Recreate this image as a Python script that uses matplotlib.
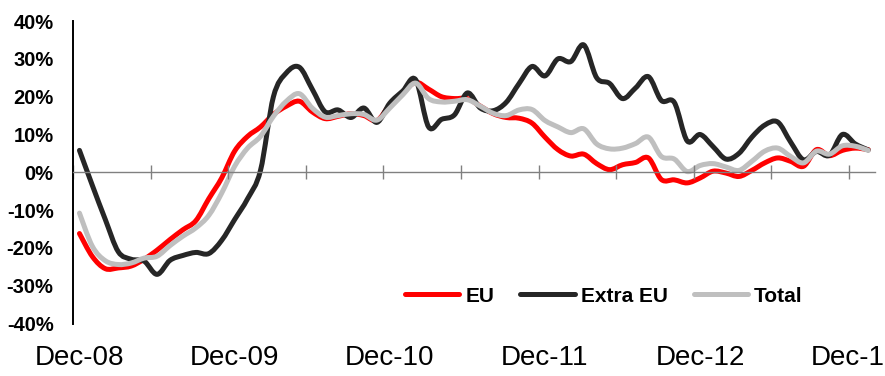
import numpy as np
import pandas as pd
import matplotlib
matplotlib.use("Agg")
import matplotlib.pyplot as plt
from matplotlib.path import Path
from matplotlib.patches import PathPatch
from matplotlib.lines import Line2D
from matplotlib.ticker import FixedLocator, FuncFormatter

plt.rcParams["font.family"] = ["Liberation Sans", "DejaVu Sans"]

# Monthly categories, Dec-08 .. Jan-14
months = pd.date_range("2008-12-01", "2014-01-01", freq="MS")

# Year-on-year change, %
eu = [-16.2, -22.3, -25.5, -25.3, -24.8, -23.0, -20.6, -17.8, -15.2, -12.8,
      -7.0, -1.5, 5.6, 9.5, 12.0, 15.3, 17.5, 18.8, 16.0, 14.2,
      14.8, 15.5, 15.0, 13.7, 17.8, 21.0, 23.8, 22.0, 20.0, 19.5,
      19.5, 17.5, 15.5, 14.5, 14.3, 13.0, 9.3, 6.0, 4.3, 4.8,
      2.3, 0.7, 2.0, 2.6, 3.8, -1.9, -2.0, -2.8, -1.5, 0.3,
      -0.2, -1.1, 0.5, 2.5, 3.8, 2.9, 1.6, 6.0, 4.4, 5.8,
      6.4, 6.0]
extra_eu = [5.8, -3.5, -12.5, -21.0, -23.0, -23.5, -27.0, -23.3, -22.0, -21.2,
            -21.5, -18.0, -12.5, -7.0, 0.5, 20.0, 26.3, 27.8, 22.0, 16.0,
            16.5, 14.5, 17.0, 13.2, 18.3, 21.5, 24.5, 12.0, 14.0, 15.2,
            21.0, 17.0, 16.3, 18.5, 23.5, 28.0, 25.5, 30.0, 29.3, 33.7,
            25.0, 23.5, 19.5, 22.3, 25.3, 19.0, 18.5, 8.3, 10.0, 6.8,
            3.5, 5.0, 9.3, 12.5, 13.3, 8.0, 3.3, 5.5, 4.5, 10.0,
            7.5, 5.9]
total = [-10.8, -19.6, -23.4, -24.4, -24.0, -22.7, -22.2, -19.4, -16.9, -14.7,
         -11.4, -5.5, 1.6, 6.4, 9.5, 14.8, 18.8, 20.8, 17.0, 14.6,
         15.0, 15.5, 15.3, 13.8, 17.0, 20.5, 23.6, 19.5, 18.6, 18.8,
         19.2, 17.5, 15.6, 15.0, 16.5, 16.6, 13.7, 12.0, 10.5, 11.5,
         7.5, 6.2, 6.4, 7.6, 9.3, 4.2, 3.5, 0.2, 1.8, 2.3,
         1.4, 0.5, 2.9, 5.6, 6.4, 4.2, 2.5, 5.6, 4.8, 7.0,
         6.9, 5.8]

series_names = ["EU", "Extra EU", "Total"]
series_colors = ["#ff0000", "#262626", "#bfbfbf"]
tick_labels = ["Dec-08", "Dec-09", "Dec-10", "Dec-11", "Dec-12", "Dec-13"]


def smooth_path(x, y):
    """Cubic Bezier path through every point (Catmull-Rom style smoothing)."""
    pts = np.column_stack([x, y]).astype(float)
    padded = np.vstack([pts[0], pts, pts[-1]])
    verts = [pts[0]]
    codes = [Path.MOVETO]
    for i in range(len(pts) - 1):
        p0, p1, p2, p3 = padded[i], padded[i + 1], padded[i + 2], padded[i + 3]
        verts += [p1 + (p2 - p0) / 6.0, p2 - (p3 - p1) / 6.0, p2]
        codes += [Path.CURVE4] * 3
    return Path(verts, codes)


fig = plt.figure(figsize=(8.85, 3.76), dpi=100)
ax = fig.add_axes([73 / 885, (376 - 323.5) / 376, 801.7 / 885, 302.4 / 376])

x = np.arange(len(months))
lw = 3.6
for vals, color in zip([eu, extra_eu, total], series_colors):
    patch = PathPatch(smooth_path(x, vals), facecolor="none", edgecolor=color,
                      lw=lw, capstyle="round", joinstyle="round",
                      transform=ax.transData)
    ax.add_patch(patch)

ax.set_xlim(-0.5, len(months) - 0.5)
ax.set_ylim(-40, 40)

for side in ("top", "right"):
    ax.spines[side].set_visible(False)
ax.spines["left"].set_color("black")
ax.spines["left"].set_linewidth(1.4)
ax.spines["bottom"].set_position(("data", 0))
ax.spines["bottom"].set_color("#808080")
ax.spines["bottom"].set_linewidth(1.0)

# tick marks every six months on the zero line
ax.xaxis.set_major_locator(FixedLocator(np.arange(-0.5, len(months), 6)))
ax.tick_params(axis="x", direction="inout", length=9.5, width=1.0,
               color="#808080", labelbottom=False)

ax.yaxis.set_major_locator(FixedLocator(np.arange(-40, 41, 10)))
ax.yaxis.set_major_formatter(FuncFormatter(lambda v, _: f"{v:.0f}%"))
ax.tick_params(axis="y", length=0, pad=14, labelsize=14.5)
for lab in ax.get_yticklabels():
    lab.set_fontweight("bold")

# year labels along the bottom edge
sec = ax.secondary_xaxis("bottom")
sec.set_xticks(np.arange(0, len(months), 12), tick_labels)
sec.spines["bottom"].set_visible(False)
sec.tick_params(length=0, pad=15.5, labelsize=20)

handles = [Line2D([], [], color=c, lw=lw, solid_capstyle="round")
           for c in series_colors]
ax.legend(handles, series_names, loc="center",
          bbox_to_anchor=(604 / 885, 1 - 296 / 376),
          bbox_transform=fig.transFigure, ncol=3, frameon=False,
          prop=dict(weight="bold", size=15),
          handlelength=2.6, handletextpad=0.3, columnspacing=1.25)

fig.savefig("out.png", dpi=100)
